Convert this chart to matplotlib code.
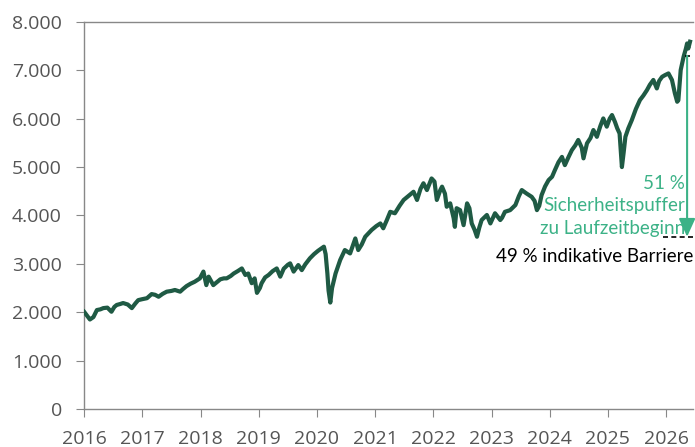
import numpy as np
import matplotlib.pyplot as plt

# index level (decimal year, value)
years = [2016.00, 2016.05, 2016.10, 2016.16, 2016.22, 2016.28, 2016.33, 2016.40, 2016.47, 2016.52,
         2016.56, 2016.62, 2016.67, 2016.75, 2016.82, 2016.88, 2016.93, 2017.00, 2017.08, 2017.16,
         2017.22, 2017.28, 2017.35, 2017.42, 2017.50, 2017.56, 2017.65, 2017.70, 2017.76, 2017.83,
         2017.90, 2017.99, 2018.05, 2018.10, 2018.14, 2018.22, 2018.28, 2018.34, 2018.40, 2018.45,
         2018.52, 2018.57, 2018.64, 2018.71, 2018.77, 2018.82, 2018.88, 2018.93, 2018.97, 2019.02,
         2019.05, 2019.11, 2019.17, 2019.24, 2019.31, 2019.37, 2019.43, 2019.50, 2019.54, 2019.60,
         2019.68, 2019.74, 2019.80, 2019.88, 2019.95, 2020.02, 2020.08, 2020.12, 2020.15, 2020.18,
         2020.20, 2020.23, 2020.26, 2020.32, 2020.40, 2020.48, 2020.57, 2020.66, 2020.71, 2020.77,
         2020.83, 2020.94, 2021.02, 2021.09, 2021.14, 2021.20, 2021.26, 2021.34, 2021.42, 2021.49,
         2021.57, 2021.66, 2021.72, 2021.78, 2021.83, 2021.89, 2021.97, 2022.02, 2022.06, 2022.12,
         2022.15, 2022.20, 2022.23, 2022.29, 2022.35, 2022.37, 2022.40, 2022.46, 2022.52, 2022.58,
         2022.62, 2022.66, 2022.71, 2022.75, 2022.79, 2022.83, 2022.92, 2022.98, 2023.06, 2023.15,
         2023.18, 2023.23, 2023.32, 2023.41, 2023.47, 2023.52, 2023.60, 2023.69, 2023.74, 2023.78,
         2023.82, 2023.86, 2023.92, 2023.98, 2024.04, 2024.09, 2024.15, 2024.21, 2024.26, 2024.32,
         2024.38, 2024.44, 2024.49, 2024.55, 2024.58, 2024.64, 2024.70, 2024.75, 2024.81, 2024.87,
         2024.92, 2024.98, 2025.03, 2025.07, 2025.12, 2025.16, 2025.20, 2025.24, 2025.27, 2025.30,
         2025.35, 2025.41, 2025.48, 2025.55, 2025.61, 2025.67, 2025.72, 2025.78, 2025.84, 2025.88,
         2025.93, 2025.98, 2026.04, 2026.10, 2026.15, 2026.19, 2026.21, 2026.25, 2026.30, 2026.34,
         2026.36, 2026.38, 2026.41]
values = [2010, 1930, 1850, 1900, 2045, 2060, 2085, 2095, 2010, 2110,
          2150, 2170, 2190, 2160, 2085, 2180, 2250, 2270, 2290, 2375,
          2360, 2320, 2380, 2425, 2440, 2460, 2425, 2480, 2540, 2590,
          2630, 2700, 2840, 2560, 2735, 2560, 2620, 2680, 2700, 2700,
          2750, 2800, 2850, 2905, 2770, 2800, 2600, 2700, 2400, 2500,
          2600, 2720, 2770, 2850, 2905, 2735, 2900, 2980, 3010, 2840,
          2975, 2870, 2990, 3115, 3200, 3270, 3320, 3355, 3200, 2800,
          2450, 2200, 2500, 2800, 3080, 3285, 3215, 3525, 3285, 3400,
          3560, 3700, 3780, 3835, 3735, 3900, 4075, 4045, 4200, 4320,
          4400, 4490, 4320, 4550, 4665, 4525, 4765, 4700, 4320, 4525,
          4595, 4450, 4180, 4250, 3940, 3765, 4150, 4110, 3800, 4250,
          4150, 3835, 3700, 3560, 3750, 3905, 4010, 3835, 4045, 3905,
          3950, 4075, 4110, 4215, 4400, 4525, 4455, 4385, 4300, 4110,
          4200, 4420, 4600, 4730, 4800, 4940, 5100, 5210, 5040, 5200,
          5350, 5450, 5560, 5400, 5180, 5490, 5600, 5765, 5625, 5850,
          6005, 5835, 6000, 6075, 5935, 5800, 5695, 5000, 5300, 5625,
          5800, 5970, 6200, 6385, 6480, 6590, 6700, 6800, 6625, 6780,
          6865, 6900, 6935, 6800, 6525, 6350, 6380, 7005, 7280, 7450,
          7555, 7450, 7590]

ref_level = 7300
barrier_level = 3560
buffer_label = "51 %\nSicherheitspuffer\nzu Laufzeitbeginn"
barrier_label = "49 % indikative Barriere"
year_ticks = list(range(2016, 2027))
value_ticks = list(range(0, 8001, 1000))

line_col = "#1f5a44"
accent = "#3cb287"
grey = "#555555"

fig = plt.figure(figsize=(6.95, 4.47), dpi=100)
ax = fig.add_axes([0.121, 0.085, 0.876, 0.866])

ax.plot(years, values, color=line_col, lw=3.0, solid_joinstyle="round", zorder=3)

# reference and barrier levels
ax.hlines(ref_level, 2026.32, 2026.46, colors="black", linestyles=(0, (3, 2)), lw=1.2, zorder=4)
ax.hlines(barrier_level, 2025.95, 2026.46, colors="black", linestyles=(0, (3, 2)), lw=1.2, zorder=4)
ax.annotate("", xy=(2026.36, barrier_level), xytext=(2026.36, ref_level),
            arrowprops=dict(arrowstyle="-|>,head_length=1.1,head_width=0.5", color=accent, lw=1.5,
                            shrinkA=0, shrinkB=0), zorder=5)
ax.text(2026.33, 4200, buffer_label, color=accent, fontsize=13.5, family="Lato",
        ha="right", va="center", linespacing=1.38, zorder=6)
ax.text(2026.46, 3160, barrier_label, color="black", fontsize=13.5, family="Lato",
        ha="right", va="center", zorder=6)

ax.set_xlim(2016, 2026.46)
ax.set_ylim(0, 8000)
ax.set_xticks(year_ticks)
ax.set_xticklabels([str(y) for y in year_ticks])
ax.set_yticks(value_ticks)
ax.set_yticklabels([f"{v:,}".replace(",", ".") for v in value_ticks])

for side in ["left", "top", "bottom"]:
    ax.spines[side].set_color("#888888")
    ax.spines[side].set_linewidth(1.0)
ax.spines["right"].set_visible(False)
ax.tick_params(colors="#888888", labelcolor=grey, labelsize=14, length=6)
ax.tick_params(axis="x", pad=9)
ax.tick_params(axis="y", pad=10)
for lab in ax.get_xticklabels() + ax.get_yticklabels():
    lab.set_family("Open Sans")

fig.savefig("out.png", dpi=100)
